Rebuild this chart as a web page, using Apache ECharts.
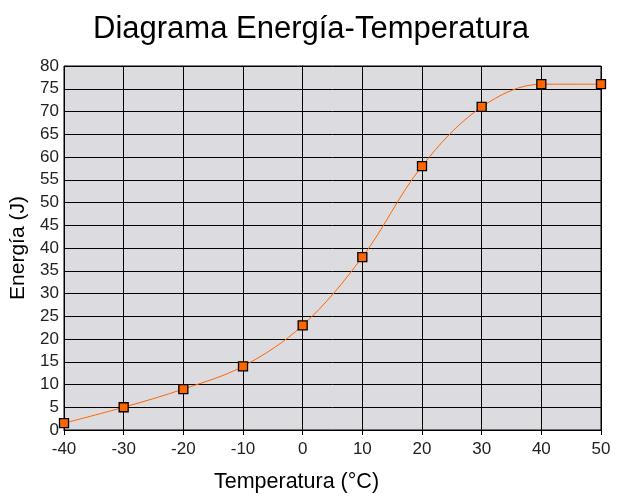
<!DOCTYPE html>
<html>
<head>
<meta charset="utf-8">
<script src="https://cdn.jsdelivr.net/npm/echarts@6/dist/echarts.min.js"></script>
<style>
  html, body { margin: 0; padding: 0; background: #fff; }
  #chart { width: 622px; height: 496px; }
</style>
</head>
<body>
<div id="chart"></div>
<script>
// Data
const temperatures = [-40, -30, -20, -10, 0, 10, 20, 30, 40, 50];
const energies = [1.5, 5, 9, 14, 23, 38, 58, 71, 76, 76];

const chart = echarts.init(document.getElementById('chart'), null, { renderer: 'canvas' });

const font = 'Liberation Sans, Arial, sans-serif';

chart.setOption({
  animation: false,
  backgroundColor: '#ffffff',
  title: {
    text: 'Diagrama Energía-Temperatura',
    left: 'center',
    top: 9,
    textStyle: { fontFamily: font, fontSize: 31, fontWeight: 'normal', color: '#000' }
  },
  grid: {
    left: 64, right: 21, top: 66, bottom: 66,
    outerBoundsMode: 'none', containLabel: false,
    show: true, backgroundColor: '#dcdbe0', borderColor: '#000', borderWidth: 1
  },
  xAxis: {
    type: 'value',
    min: -40, max: 50, interval: 10,
    name: 'Temperatura (°C)',
    nameLocation: 'middle',
    nameGap: 41,
    nameTextStyle: { fontFamily: font, fontSize: 21.5, color: '#000', padding: [0, 72, 0, 0] },
    axisLine: { show: true, lineStyle: { color: '#000', width: 1 } },
    axisTick: { show: true, length: 5, lineStyle: { color: '#000' } },
    axisLabel: { fontFamily: font, fontSize: 17, color: '#222', margin: 11 },
    splitLine: { show: true, lineStyle: { color: '#000', width: 1 } }
  },
  yAxis: {
    type: 'value',
    min: 0, max: 80, interval: 5,
    name: 'Energía (J)',
    nameLocation: 'middle',
    nameGap: 33,
    nameTextStyle: { fontFamily: font, fontSize: 21, color: '#000' },
    axisLine: { show: true, lineStyle: { color: '#000', width: 1 } },
    axisTick: { show: true, length: 6, lineStyle: { color: '#000' } },
    axisLabel: { fontFamily: font, fontSize: 17, color: '#222', margin: 5 },
    splitLine: { show: true, lineStyle: { color: '#000', width: 1 } }
  },
  series: [{
    type: 'line',
    data: temperatures.map((t, i) => [t, energies[i]]),
    smooth: 0.35,
    symbol: 'rect',
    symbolSize: 9,
    showAllSymbol: true,
    lineStyle: { color: '#ff6600', width: 1 },
    itemStyle: { color: '#ff6600', borderColor: '#000', borderWidth: 1.3 }
  }]
});
</script>
</body>
</html>
